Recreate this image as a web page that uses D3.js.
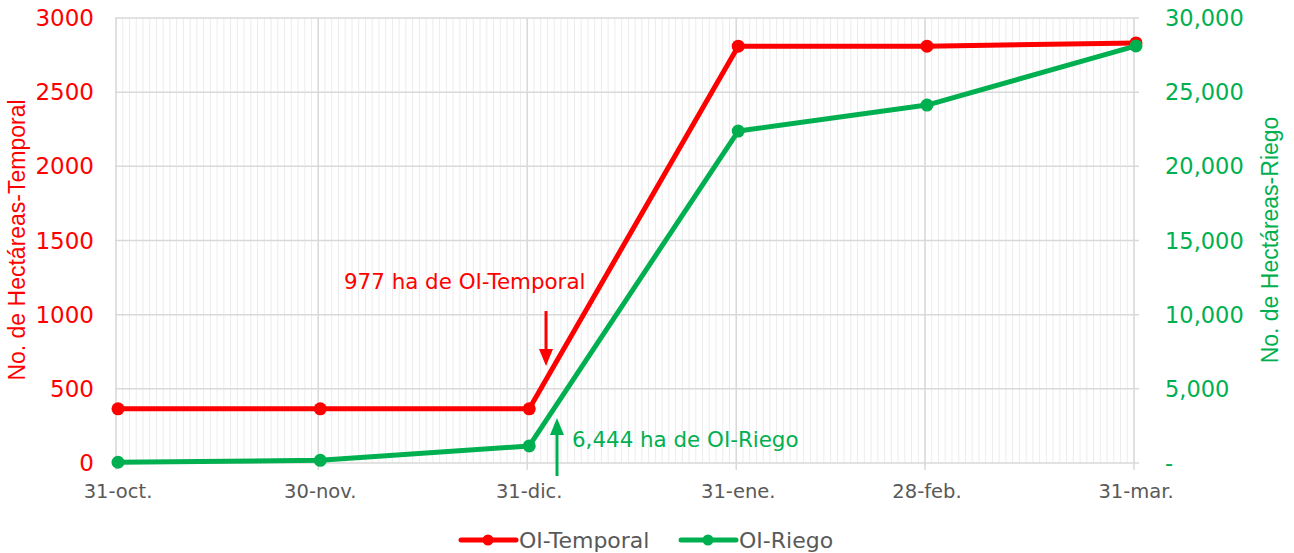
<!DOCTYPE html>
<html>
<head>
<meta charset="utf-8">
<script src="https://cdn.jsdelivr.net/npm/d3@7"></script>
<style>
  body { margin: 0; background: #fff; }
  text { font-family: "DejaVu Sans", sans-serif; }
  text.titulo { font-family: "Liberation Sans", Arial, sans-serif; }
</style>
</head>
<body>
<div id="chart"></div>
<script>
// data
const fechas = ["2021-10-31", "2021-11-30", "2021-12-31", "2022-01-31", "2022-02-28", "2022-03-31"];
const etiquetas = ["31-oct.", "30-nov.", "31-dic.", "31-ene.", "28-feb.", "31-mar."];
const temporal = [365, 365, 365, 2810, 2810, 2832];
const riego = [50, 180, 1150, 22380, 24130, 28120];
const ticksIzq = [0, 500, 1000, 1500, 2000, 2500, 3000];
const ticksDer = [0, 5000, 10000, 15000, 20000, 25000, 30000];
const series = ["OI-Temporal", "OI-Riego"];
const notas = ["977 ha de OI-Temporal", "6,444 ha de OI-Riego"];

const rojo = "#ff0000", verde = "#00b050";

// setup canvas
var svg_width = 1294, svg_height = 553;
var svg = d3.select("#chart").append("svg")
    .attr("width", svg_width)
    .attr("height", svg_height);
var margin = {top: 18, left: 118, right: 1136, bottom: 463};

var parse = d3.utcParse("%Y-%m-%d");
var dates = fechas.map(parse);

var x = d3.scaleUtc()
    .domain([dates[0], dates[dates.length - 1]])
    .range([margin.left, margin.right]);
var yL = d3.scaleLinear().domain([0, 3000]).range([margin.bottom, margin.top]);
var yR = d3.scaleLinear().domain([0, 30000]).range([margin.bottom, margin.top]);

// minor gridlines, one per day
var days = d3.utcDay.range(dates[0], d3.utcDay.offset(dates[dates.length - 1], 1));
svg.append("g").selectAll("line")
    .data(days)
    .enter().append("line")
    .attr("x1", d => x(d) - 2).attr("x2", d => x(d) - 2)
    .attr("y1", margin.top).attr("y2", margin.bottom)
    .attr("stroke", "#ececec").attr("stroke-width", 1);

// horizontal gridlines
svg.append("g").selectAll("line")
    .data(ticksIzq)
    .enter().append("line")
    .attr("x1", margin.left - 3).attr("x2", margin.right + 3)
    .attr("y1", d => yL(d)).attr("y2", d => yL(d))
    .attr("stroke", "#d9d9d9").attr("stroke-width", 1.5);

// major gridlines + ticks
svg.append("g").selectAll("line")
    .data(dates)
    .enter().append("line")
    .attr("x1", d => x(d) - 2).attr("x2", d => x(d) - 2)
    .attr("y1", margin.top).attr("y2", margin.bottom + 7)
    .attr("stroke", "#d9d9d9").attr("stroke-width", 1.5);

// x labels
svg.append("g").selectAll("text")
    .data(dates)
    .enter().append("text")
    .attr("x", d => x(d))
    .attr("y", 498)
    .attr("text-anchor", "middle")
    .attr("fill", "#595959")
    .style("font-size", "19.5px")
    .text((d, i) => etiquetas[i]);

// left ticks
svg.append("g").selectAll("text")
    .data(ticksIzq)
    .enter().append("text")
    .attr("x", 94).attr("y", d => yL(d) + 8)
    .attr("text-anchor", "end")
    .attr("fill", rojo)
    .style("font-size", "23px")
    .text(d => d);

// right ticks
svg.append("g").selectAll("text")
    .data(ticksDer)
    .enter().append("text")
    .attr("x", 1165).attr("y", d => yR(d) + 8)
    .attr("fill", verde)
    .style("font-size", "22.5px")
    .text(d => d === 0 ? "-" : d3.format(",")(d));

// axis titles
svg.append("text")
    .attr("class", "titulo")
    .attr("transform", "translate(25,240) rotate(-90)")
    .attr("text-anchor", "middle")
    .attr("fill", rojo)
    .style("font-size", "23px")
    .text("No. de Hectáreas-Temporal");
svg.append("text")
    .attr("class", "titulo")
    .attr("transform", "translate(1278,240) rotate(-90)")
    .attr("text-anchor", "middle")
    .attr("fill", verde)
    .style("font-size", "23px")
    .text("No. de Hectáreas-Riego");

// lines
function drawSeries(vals, yscale, color) {
  var line = d3.line().x((d, i) => x(dates[i])).y(d => yscale(d));
  svg.append("path")
      .datum(vals)
      .attr("d", line)
      .attr("fill", "none")
      .attr("stroke", color)
      .attr("stroke-width", 5)
      .attr("stroke-linejoin", "round");
  svg.append("g").selectAll("circle")
      .data(vals)
      .enter().append("circle")
      .attr("cx", (d, i) => x(dates[i]))
      .attr("cy", d => yscale(d))
      .attr("r", 6.5)
      .attr("fill", color);
}
drawSeries(temporal, yL, rojo);
drawSeries(riego, yR, verde);

// annotations
svg.append("text")
    .attr("x", 344).attr("y", 289)
    .attr("fill", rojo)
    .style("font-size", "21.4px")
    .text(notas[0]);
svg.append("line")
    .attr("x1", 546).attr("x2", 546).attr("y1", 311).attr("y2", 352)
    .attr("stroke", rojo).attr("stroke-width", 3);
svg.append("path")
    .attr("d", "M539,349 L553,349 L546,366 Z")
    .attr("fill", rojo);

svg.append("text")
    .attr("x", 572).attr("y", 447)
    .attr("fill", verde)
    .style("font-size", "21.4px")
    .text(notas[1]);
svg.append("line")
    .attr("x1", 557).attr("x2", 557).attr("y1", 476).attr("y2", 432)
    .attr("stroke", verde).attr("stroke-width", 3);
svg.append("path")
    .attr("d", "M550,435 L564,435 L557,418 Z")
    .attr("fill", verde);

// legend
var leg = svg.append("g");
[[461, rojo], [681, verde]].forEach(function(p, i) {
  leg.append("line")
      .attr("x1", p[0]).attr("x2", p[0] + 55)
      .attr("y1", 540).attr("y2", 540)
      .attr("stroke", p[1]).attr("stroke-width", 5)
      .attr("stroke-linecap", "round");
  leg.append("circle")
      .attr("cx", p[0] + 27).attr("cy", 540).attr("r", 5.5)
      .attr("fill", p[1]);
  leg.append("text")
      .attr("x", p[0] + 58).attr("y", 548)
      .attr("fill", "#595959")
      .style("font-size", "22px")
      .text(series[i]);
});
</script>
</body>
</html>
